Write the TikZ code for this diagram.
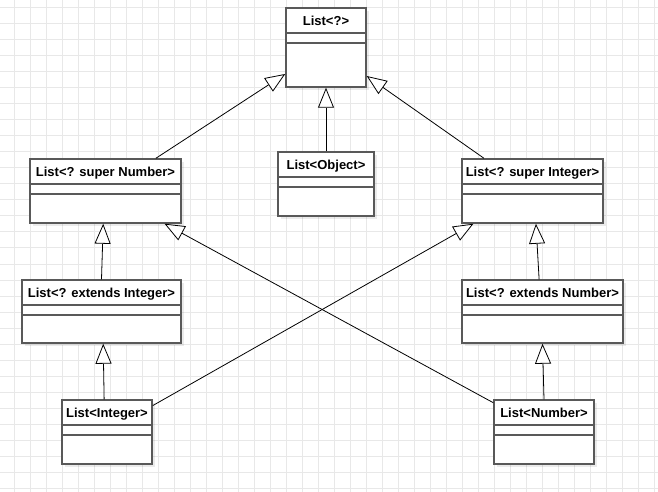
\documentclass[tikz,border=0pt]{standalone}
\usepackage{fontspec}
\setmainfont{Liberation Sans}
\usetikzlibrary{arrows.meta,shadows}

\begin{document}
\begin{tikzpicture}[x=0.75pt,y=-0.75pt,
    cls/.style={draw=black!65,line width=1.1pt,fill=white,inner sep=0pt,
      text height=13.3pt,font=\bfseries\fontsize{9.75}{11}\selectfont,
      drop shadow={shadow xshift=2.2pt,shadow yshift=-2.2pt,fill=black,opacity=0.08},
      path picture={\draw[black!65,line width=1.1pt]
        ([yshift=-18.75pt]path picture bounding box.north west) -- ([yshift=-18.75pt]path picture bounding box.north east)
        ([yshift=-26.25pt]path picture bounding box.north west) -- ([yshift=-26.25pt]path picture bounding box.north east);}},
    classbox/.style 2 args={cls,minimum width=#1,text depth=#2},
    gen/.style={-{Triangle[open,length=15pt,width=12pt,fill=white]},line width=0.6pt},
    gridline/.style={black!9,line width=0.75pt}]
      \useasboundingbox (0,0) rectangle (658,492);
      \fill[white] (0,0) rectangle (658,492);
      \foreach \gx in {14,30,...,654} \draw[gridline] (\gx,0) -- (\gx,492);
      \foreach \gy in {8,24,...,488} \draw[gridline] (0,\gy) -- (658,\gy);

      \node[classbox={60pt}{45.95pt}] (top) at (326,47.5) {List<?>};
      \node[classbox={72pt}{34.7pt}] (obj) at (326,184) {List<Object>};
      \node[classbox={113.25pt}{34.7pt}] (supnum) at (105.5,191) {List<? super Number>};
      \node[classbox={105.75pt}{34.7pt}] (supint) at (532.5,191) {List<? super Integer>};
      \node[classbox={119.25pt}{33.95pt}] (extint) at (101.5,311.5) {List<? extends Integer>};
      \node[classbox={120.75pt}{33.95pt}] (extnum) at (542.5,311.5) {List<? extends Number>};
      \node[classbox={67.5pt}{34.7pt}] (int) at (107,432) {List<Integer>};
      \node[classbox={75pt}{34.7pt}] (num) at (544,432) {List<Number>};

      \draw[gen] (obj.north) -- (top.south);
      \draw[gen] (supnum.33) -- (top.213);
      \draw[gen] (supint.146) -- (top.-35);
      \draw[gen] (extint.north) -- (supnum.266);
      \draw[gen] (int.95) -- (extint.273);
      \draw[gen] (extnum.96) -- (supint.276);
      \draw[gen] (num.north) -- (extnum.south);
      \draw[gen] (int.30) -- (supint.209);
      \draw[gen] (num.150) -- (supnum.-29);
\end{tikzpicture}
\end{document}
